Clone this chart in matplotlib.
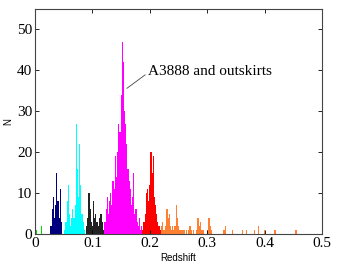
import matplotlib
matplotlib.use("Agg")
import matplotlib.pyplot as plt

# bin centres (redshift) and counts, one group per colour
green_z = [0.001, 0.003, 0.011]
green_n = [3, 1, 2]

navy_z = [0.028, 0.030, 0.032, 0.034, 0.036, 0.038, 0.040, 0.042, 0.044, 0.046]
navy_n = [2, 6, 9, 4, 7, 15, 8, 4, 11, 3]

cyan_z = [0.052, 0.054, 0.056, 0.058, 0.060, 0.062, 0.064, 0.066, 0.068,
          0.070, 0.072, 0.074, 0.076, 0.078, 0.080, 0.082, 0.084, 0.086]
cyan_n = [1, 3, 8, 12, 5, 2, 4, 6, 4, 7, 27, 16, 9, 22, 12, 5, 3, 1]

black_z = [0.090, 0.092, 0.094, 0.096, 0.098, 0.100, 0.102, 0.104,
           0.106, 0.108, 0.110, 0.112, 0.114, 0.116, 0.118, 0.120]
black_n = [2, 4, 10, 6, 3, 2, 8, 4, 5, 3, 2, 4, 5, 5, 3, 1]

mag_z = [0.122, 0.124, 0.126, 0.128, 0.130, 0.132, 0.134, 0.136, 0.138,
         0.140, 0.142, 0.144, 0.146, 0.148, 0.150, 0.152, 0.154, 0.156,
         0.158, 0.160, 0.162, 0.164, 0.166, 0.168, 0.170, 0.172, 0.174,
         0.176, 0.178, 0.180, 0.182, 0.184, 0.186]
mag_n = [3, 6, 9, 5, 8, 10, 7, 13, 11, 19, 14, 20, 27, 25, 34, 47, 42, 30,
         27, 22, 16, 13, 11, 7, 9, 15, 5, 6, 3, 2, 4, 1, 2]

red_z = [0.188, 0.190, 0.192, 0.194, 0.196, 0.198, 0.200, 0.202,
         0.204, 0.206, 0.208, 0.210, 0.212, 0.214, 0.216, 0.218]
red_n = [1, 3, 5, 10, 11, 8, 12, 20, 15, 19, 9, 7, 5, 3, 2, 1]

orange_z = [0.220, 0.222, 0.224, 0.226, 0.228, 0.230, 0.232, 0.234, 0.236,
            0.238, 0.240, 0.242, 0.244, 0.246, 0.248, 0.250, 0.252, 0.254,
            0.256, 0.258, 0.260, 0.264, 0.268, 0.270, 0.272, 0.276, 0.282,
            0.284, 0.286, 0.288, 0.290, 0.292, 0.294, 0.300, 0.302, 0.304,
            0.306, 0.308, 0.328, 0.330, 0.332, 0.344, 0.362, 0.368, 0.382,
            0.390, 0.400, 0.418, 0.454, 0.456]
orange_n = [2, 3, 1, 1, 2, 6, 4, 5, 2, 1, 2, 1, 2, 7, 4, 2, 1, 1, 1, 1, 1,
            1, 1, 2, 1, 1, 1, 4, 2, 3, 1, 1, 1, 1, 4, 4, 2, 1, 1, 1, 2, 1,
            1, 1, 1, 2, 1, 1, 1, 1]

groups = [
    (green_z, green_n, "#00dd00"),
    (navy_z, navy_n, "#00007f"),
    (cyan_z, cyan_n, "#00ffff"),
    (black_z, black_n, "#222222"),
    (mag_z, mag_n, "#ff00ff"),
    (red_z, red_n, "#ff0000"),
    (orange_z, orange_n, "#ff8030"),
]

fig = plt.figure(figsize=(3.57, 2.65), dpi=100)
ax = fig.add_axes([0.098, 0.117, 0.804, 0.849])

for z, n, c in groups:
    ax.bar(z, n, width=0.002, color=c, linewidth=0, align="center")

ax.set_xlim(0, 0.5)
ax.set_ylim(0, 55)
ax.set_xticks([0, 0.1, 0.2, 0.3, 0.4, 0.5])
ax.set_xticklabels(["0", "0.1", "0.2", "0.3", "0.4", "0.5"])
ax.set_yticks([0, 10, 20, 30, 40, 50])
ax.tick_params(direction="in", top=True, right=True, length=3, width=0.6,
               labelsize=11, pad=2)
for lab in ax.get_xticklabels() + ax.get_yticklabels():
    lab.set_family("Liberation Serif")
for s in ax.spines.values():
    s.set_linewidth(0.8)
    s.set_color("#444444")

ax.set_xlabel("Redshift", fontsize=7, family="Liberation Sans", labelpad=2)
ax.set_ylabel("N", fontsize=7, family="Liberation Sans", labelpad=3)

ax.annotate("A3888 and outskirts", xy=(0.160, 35.6), xytext=(0.196, 39.8),
            fontsize=11, family="Liberation Serif", va="center", ha="left",
            arrowprops=dict(arrowstyle="-", color="#444444", lw=0.6,
                            relpos=(0, 0.35), patchA=None,
                            shrinkA=2, shrinkB=0))

fig.savefig("out.png", dpi=100)
